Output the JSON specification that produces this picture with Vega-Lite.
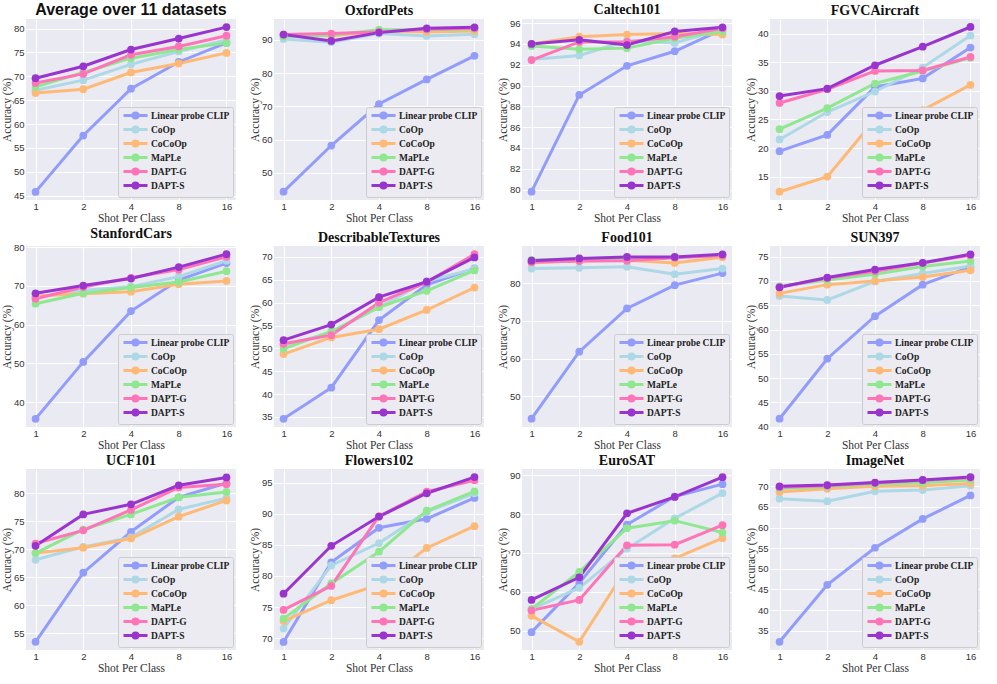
{
"$schema": "https://vega.github.io/schema/vega-lite/v6.json",
"padding": {"left": 1, "top": 2, "right": 2, "bottom": 0},
"background": "#ffffff",
"columns": 4,
"spacing": {"row": 3, "column": 13},
"resolve": {"scale": {"x": "independent", "y": "independent", "color": "independent"}, "legend": {"color": "independent"}, "axis": {"x": "independent", "y": "independent"}},
"data": {"values": [
{"ds":"Avg","m":"Linear probe CLIP","s":1,"a":45.8},{"ds":"Avg","m":"Linear probe CLIP","s":2,"a":57.6},{"ds":"Avg","m":"Linear probe CLIP","s":4,"a":67.4},{"ds":"Avg","m":"Linear probe CLIP","s":8,"a":73.0},{"ds":"Avg","m":"Linear probe CLIP","s":16,"a":77.0},
{"ds":"Avg","m":"CoOp","s":1,"a":67.1},{"ds":"Avg","m":"CoOp","s":2,"a":69.2},{"ds":"Avg","m":"CoOp","s":4,"a":72.5},{"ds":"Avg","m":"CoOp","s":8,"a":75.2},{"ds":"Avg","m":"CoOp","s":16,"a":77.6},
{"ds":"Avg","m":"CoCoOp","s":1,"a":66.5},{"ds":"Avg","m":"CoCoOp","s":2,"a":67.3},{"ds":"Avg","m":"CoCoOp","s":4,"a":70.8},{"ds":"Avg","m":"CoCoOp","s":8,"a":72.7},{"ds":"Avg","m":"CoCoOp","s":16,"a":74.9},
{"ds":"Avg","m":"MaPLe","s":1,"a":67.8},{"ds":"Avg","m":"MaPLe","s":2,"a":70.8},{"ds":"Avg","m":"MaPLe","s":4,"a":73.8},{"ds":"Avg","m":"MaPLe","s":8,"a":75.6},{"ds":"Avg","m":"MaPLe","s":16,"a":77.0},
{"ds":"Avg","m":"DAPT-G","s":1,"a":68.6},{"ds":"Avg","m":"DAPT-G","s":2,"a":70.5},{"ds":"Avg","m":"DAPT-G","s":4,"a":74.5},{"ds":"Avg","m":"DAPT-G","s":8,"a":76.25},{"ds":"Avg","m":"DAPT-G","s":16,"a":78.5},
{"ds":"Avg","m":"DAPT-S","s":1,"a":69.6},{"ds":"Avg","m":"DAPT-S","s":2,"a":72.1},{"ds":"Avg","m":"DAPT-S","s":4,"a":75.6},{"ds":"Avg","m":"DAPT-S","s":8,"a":77.9},{"ds":"Avg","m":"DAPT-S","s":16,"a":80.3},

{"ds":"OxfordPets","m":"Linear probe CLIP","s":1,"a":44.3},{"ds":"OxfordPets","m":"Linear probe CLIP","s":2,"a":58.2},{"ds":"OxfordPets","m":"Linear probe CLIP","s":4,"a":70.7},{"ds":"OxfordPets","m":"Linear probe CLIP","s":8,"a":78.1},{"ds":"OxfordPets","m":"Linear probe CLIP","s":16,"a":85.2},
{"ds":"OxfordPets","m":"CoOp","s":1,"a":90.3},{"ds":"OxfordPets","m":"CoOp","s":2,"a":89.3},{"ds":"OxfordPets","m":"CoOp","s":4,"a":91.9},{"ds":"OxfordPets","m":"CoOp","s":8,"a":91.2},{"ds":"OxfordPets","m":"CoOp","s":16,"a":91.7},
{"ds":"OxfordPets","m":"CoCoOp","s":1,"a":91.5},{"ds":"OxfordPets","m":"CoCoOp","s":2,"a":91.2},{"ds":"OxfordPets","m":"CoCoOp","s":4,"a":92.7},{"ds":"OxfordPets","m":"CoCoOp","s":8,"a":92.4},{"ds":"OxfordPets","m":"CoCoOp","s":16,"a":92.7},
{"ds":"OxfordPets","m":"MaPLe","s":1,"a":91.0},{"ds":"OxfordPets","m":"MaPLe","s":2,"a":91.4},{"ds":"OxfordPets","m":"MaPLe","s":4,"a":93.1},{"ds":"OxfordPets","m":"MaPLe","s":8,"a":93.1},{"ds":"OxfordPets","m":"MaPLe","s":16,"a":93.3},
{"ds":"OxfordPets","m":"DAPT-G","s":1,"a":91.6},{"ds":"OxfordPets","m":"DAPT-G","s":2,"a":91.9},{"ds":"OxfordPets","m":"DAPT-G","s":4,"a":92.4},{"ds":"OxfordPets","m":"DAPT-G","s":8,"a":93.2},{"ds":"OxfordPets","m":"DAPT-G","s":16,"a":93.5},
{"ds":"OxfordPets","m":"DAPT-S","s":1,"a":91.6},{"ds":"OxfordPets","m":"DAPT-S","s":2,"a":89.7},{"ds":"OxfordPets","m":"DAPT-S","s":4,"a":92.2},{"ds":"OxfordPets","m":"DAPT-S","s":8,"a":93.5},{"ds":"OxfordPets","m":"DAPT-S","s":16,"a":93.8},

{"ds":"Caltech101","m":"Linear probe CLIP","s":1,"a":79.8},{"ds":"Caltech101","m":"Linear probe CLIP","s":2,"a":89.1},{"ds":"Caltech101","m":"Linear probe CLIP","s":4,"a":91.9},{"ds":"Caltech101","m":"Linear probe CLIP","s":8,"a":93.3},{"ds":"Caltech101","m":"Linear probe CLIP","s":16,"a":95.4},
{"ds":"Caltech101","m":"CoOp","s":1,"a":92.5},{"ds":"Caltech101","m":"CoOp","s":2,"a":92.9},{"ds":"Caltech101","m":"CoOp","s":4,"a":94.3},{"ds":"Caltech101","m":"CoOp","s":8,"a":94.1},{"ds":"Caltech101","m":"CoOp","s":16,"a":95.4},
{"ds":"Caltech101","m":"CoCoOp","s":1,"a":94.0},{"ds":"Caltech101","m":"CoCoOp","s":2,"a":94.7},{"ds":"Caltech101","m":"CoCoOp","s":4,"a":94.9},{"ds":"Caltech101","m":"CoCoOp","s":8,"a":95.0},{"ds":"Caltech101","m":"CoCoOp","s":16,"a":94.9},
{"ds":"Caltech101","m":"MaPLe","s":1,"a":93.8},{"ds":"Caltech101","m":"MaPLe","s":2,"a":93.5},{"ds":"Caltech101","m":"MaPLe","s":4,"a":93.6},{"ds":"Caltech101","m":"MaPLe","s":8,"a":94.55},{"ds":"Caltech101","m":"MaPLe","s":16,"a":95.2},
{"ds":"Caltech101","m":"DAPT-G","s":1,"a":92.45},{"ds":"Caltech101","m":"DAPT-G","s":2,"a":94.2},{"ds":"Caltech101","m":"DAPT-G","s":4,"a":94.2},{"ds":"Caltech101","m":"DAPT-G","s":8,"a":94.7},{"ds":"Caltech101","m":"DAPT-G","s":16,"a":95.5},
{"ds":"Caltech101","m":"DAPT-S","s":1,"a":94.0},{"ds":"Caltech101","m":"DAPT-S","s":2,"a":94.4},{"ds":"Caltech101","m":"DAPT-S","s":4,"a":93.9},{"ds":"Caltech101","m":"DAPT-S","s":8,"a":95.2},{"ds":"Caltech101","m":"DAPT-S","s":16,"a":95.6},

{"ds":"FGVCAircraft","m":"Linear probe CLIP","s":1,"a":19.45},{"ds":"FGVCAircraft","m":"Linear probe CLIP","s":2,"a":22.3},{"ds":"FGVCAircraft","m":"Linear probe CLIP","s":4,"a":30.7},{"ds":"FGVCAircraft","m":"Linear probe CLIP","s":8,"a":32.2},{"ds":"FGVCAircraft","m":"Linear probe CLIP","s":16,"a":37.6},
{"ds":"FGVCAircraft","m":"CoOp","s":1,"a":21.5},{"ds":"FGVCAircraft","m":"CoOp","s":2,"a":26.3},{"ds":"FGVCAircraft","m":"CoOp","s":4,"a":29.9},{"ds":"FGVCAircraft","m":"CoOp","s":8,"a":34.1},{"ds":"FGVCAircraft","m":"CoOp","s":16,"a":39.7},
{"ds":"FGVCAircraft","m":"CoCoOp","s":1,"a":12.35},{"ds":"FGVCAircraft","m":"CoCoOp","s":2,"a":15.0},{"ds":"FGVCAircraft","m":"CoCoOp","s":4,"a":25.0},{"ds":"FGVCAircraft","m":"CoCoOp","s":8,"a":26.65},{"ds":"FGVCAircraft","m":"CoCoOp","s":16,"a":31.05},
{"ds":"FGVCAircraft","m":"MaPLe","s":1,"a":23.3},{"ds":"FGVCAircraft","m":"MaPLe","s":2,"a":27.0},{"ds":"FGVCAircraft","m":"MaPLe","s":4,"a":31.3},{"ds":"FGVCAircraft","m":"MaPLe","s":8,"a":33.5},{"ds":"FGVCAircraft","m":"MaPLe","s":16,"a":35.8},
{"ds":"FGVCAircraft","m":"DAPT-G","s":1,"a":27.9},{"ds":"FGVCAircraft","m":"DAPT-G","s":2,"a":30.3},{"ds":"FGVCAircraft","m":"DAPT-G","s":4,"a":33.5},{"ds":"FGVCAircraft","m":"DAPT-G","s":8,"a":33.6},{"ds":"FGVCAircraft","m":"DAPT-G","s":16,"a":35.95},
{"ds":"FGVCAircraft","m":"DAPT-S","s":1,"a":29.1},{"ds":"FGVCAircraft","m":"DAPT-S","s":2,"a":30.4},{"ds":"FGVCAircraft","m":"DAPT-S","s":4,"a":34.5},{"ds":"FGVCAircraft","m":"DAPT-S","s":8,"a":37.75},{"ds":"FGVCAircraft","m":"DAPT-S","s":16,"a":41.2},

{"ds":"StanfordCars","m":"Linear probe CLIP","s":1,"a":35.7},{"ds":"StanfordCars","m":"Linear probe CLIP","s":2,"a":50.4},{"ds":"StanfordCars","m":"Linear probe CLIP","s":4,"a":63.5},{"ds":"StanfordCars","m":"Linear probe CLIP","s":8,"a":71.5},{"ds":"StanfordCars","m":"Linear probe CLIP","s":16,"a":75.9},
{"ds":"StanfordCars","m":"CoOp","s":1,"a":67.0},{"ds":"StanfordCars","m":"CoOp","s":2,"a":68.9},{"ds":"StanfordCars","m":"CoOp","s":4,"a":69.8},{"ds":"StanfordCars","m":"CoOp","s":8,"a":72.4},{"ds":"StanfordCars","m":"CoOp","s":16,"a":76.5},
{"ds":"StanfordCars","m":"CoCoOp","s":1,"a":67.4},{"ds":"StanfordCars","m":"CoCoOp","s":2,"a":68.0},{"ds":"StanfordCars","m":"CoCoOp","s":4,"a":68.5},{"ds":"StanfordCars","m":"CoCoOp","s":8,"a":70.45},{"ds":"StanfordCars","m":"CoCoOp","s":16,"a":71.3},
{"ds":"StanfordCars","m":"MaPLe","s":1,"a":65.4},{"ds":"StanfordCars","m":"MaPLe","s":2,"a":68.1},{"ds":"StanfordCars","m":"MaPLe","s":4,"a":69.6},{"ds":"StanfordCars","m":"MaPLe","s":8,"a":71.0},{"ds":"StanfordCars","m":"MaPLe","s":16,"a":73.8},
{"ds":"StanfordCars","m":"DAPT-G","s":1,"a":66.7},{"ds":"StanfordCars","m":"DAPT-G","s":2,"a":69.7},{"ds":"StanfordCars","m":"DAPT-G","s":4,"a":72.1},{"ds":"StanfordCars","m":"DAPT-G","s":8,"a":74.2},{"ds":"StanfordCars","m":"DAPT-G","s":16,"a":77.5},
{"ds":"StanfordCars","m":"DAPT-S","s":1,"a":68.1},{"ds":"StanfordCars","m":"DAPT-S","s":2,"a":70.1},{"ds":"StanfordCars","m":"DAPT-S","s":4,"a":71.9},{"ds":"StanfordCars","m":"DAPT-S","s":8,"a":74.85},{"ds":"StanfordCars","m":"DAPT-S","s":16,"a":78.2},

{"ds":"DescribableTextures","m":"Linear probe CLIP","s":1,"a":34.6},{"ds":"DescribableTextures","m":"Linear probe CLIP","s":2,"a":41.4},{"ds":"DescribableTextures","m":"Linear probe CLIP","s":4,"a":56.2},{"ds":"DescribableTextures","m":"Linear probe CLIP","s":8,"a":63.9},{"ds":"DescribableTextures","m":"Linear probe CLIP","s":16,"a":67.5},
{"ds":"DescribableTextures","m":"CoOp","s":1,"a":50.6},{"ds":"DescribableTextures","m":"CoOp","s":2,"a":53.5},{"ds":"DescribableTextures","m":"CoOp","s":4,"a":59.0},{"ds":"DescribableTextures","m":"CoOp","s":8,"a":64.7},{"ds":"DescribableTextures","m":"CoOp","s":16,"a":67.4},
{"ds":"DescribableTextures","m":"CoCoOp","s":1,"a":48.75},{"ds":"DescribableTextures","m":"CoCoOp","s":2,"a":52.4},{"ds":"DescribableTextures","m":"CoCoOp","s":4,"a":54.2},{"ds":"DescribableTextures","m":"CoCoOp","s":8,"a":58.4},{"ds":"DescribableTextures","m":"CoCoOp","s":16,"a":63.3},
{"ds":"DescribableTextures","m":"MaPLe","s":1,"a":49.9},{"ds":"DescribableTextures","m":"MaPLe","s":2,"a":53.7},{"ds":"DescribableTextures","m":"MaPLe","s":4,"a":59.0},{"ds":"DescribableTextures","m":"MaPLe","s":8,"a":62.6},{"ds":"DescribableTextures","m":"MaPLe","s":16,"a":67.05},
{"ds":"DescribableTextures","m":"DAPT-G","s":1,"a":51.0},{"ds":"DescribableTextures","m":"DAPT-G","s":2,"a":52.9},{"ds":"DescribableTextures","m":"DAPT-G","s":4,"a":60.0},{"ds":"DescribableTextures","m":"DAPT-G","s":8,"a":64.5},{"ds":"DescribableTextures","m":"DAPT-G","s":16,"a":70.6},
{"ds":"DescribableTextures","m":"DAPT-S","s":1,"a":51.8},{"ds":"DescribableTextures","m":"DAPT-S","s":2,"a":55.2},{"ds":"DescribableTextures","m":"DAPT-S","s":4,"a":61.2},{"ds":"DescribableTextures","m":"DAPT-S","s":8,"a":64.6},{"ds":"DescribableTextures","m":"DAPT-S","s":16,"a":69.9},

{"ds":"Food101","m":"Linear probe CLIP","s":1,"a":44.0},{"ds":"Food101","m":"Linear probe CLIP","s":2,"a":61.8},{"ds":"Food101","m":"Linear probe CLIP","s":4,"a":73.3},{"ds":"Food101","m":"Linear probe CLIP","s":8,"a":79.5},{"ds":"Food101","m":"Linear probe CLIP","s":16,"a":82.7},
{"ds":"Food101","m":"CoOp","s":1,"a":83.9},{"ds":"Food101","m":"CoOp","s":2,"a":84.1},{"ds":"Food101","m":"CoOp","s":4,"a":84.4},{"ds":"Food101","m":"CoOp","s":8,"a":82.4},{"ds":"Food101","m":"CoOp","s":16,"a":83.9},
{"ds":"Food101","m":"CoCoOp","s":1,"a":85.5},{"ds":"Food101","m":"CoCoOp","s":2,"a":85.9},{"ds":"Food101","m":"CoCoOp","s":4,"a":86.1},{"ds":"Food101","m":"CoCoOp","s":8,"a":85.4},{"ds":"Food101","m":"CoCoOp","s":16,"a":86.9},
{"ds":"Food101","m":"MaPLe","s":1,"a":86.2},{"ds":"Food101","m":"MaPLe","s":2,"a":86.5},{"ds":"Food101","m":"MaPLe","s":4,"a":86.6},{"ds":"Food101","m":"MaPLe","s":8,"a":86.9},{"ds":"Food101","m":"MaPLe","s":16,"a":87.4},
{"ds":"Food101","m":"DAPT-G","s":1,"a":85.6},{"ds":"Food101","m":"DAPT-G","s":2,"a":85.9},{"ds":"Food101","m":"DAPT-G","s":4,"a":86.0},{"ds":"Food101","m":"DAPT-G","s":8,"a":86.8},{"ds":"Food101","m":"DAPT-G","s":16,"a":87.4},
{"ds":"Food101","m":"DAPT-S","s":1,"a":86.0},{"ds":"Food101","m":"DAPT-S","s":2,"a":86.6},{"ds":"Food101","m":"DAPT-S","s":4,"a":87.0},{"ds":"Food101","m":"DAPT-S","s":8,"a":87.0},{"ds":"Food101","m":"DAPT-S","s":16,"a":87.7},

{"ds":"SUN397","m":"Linear probe CLIP","s":1,"a":41.65},{"ds":"SUN397","m":"Linear probe CLIP","s":2,"a":54.0},{"ds":"SUN397","m":"Linear probe CLIP","s":4,"a":62.75},{"ds":"SUN397","m":"Linear probe CLIP","s":8,"a":69.25},{"ds":"SUN397","m":"Linear probe CLIP","s":16,"a":72.9},
{"ds":"SUN397","m":"CoOp","s":1,"a":66.9},{"ds":"SUN397","m":"CoOp","s":2,"a":66.1},{"ds":"SUN397","m":"CoOp","s":4,"a":69.9},{"ds":"SUN397","m":"CoOp","s":8,"a":71.55},{"ds":"SUN397","m":"CoOp","s":16,"a":73.1},
{"ds":"SUN397","m":"CoCoOp","s":1,"a":67.45},{"ds":"SUN397","m":"CoCoOp","s":2,"a":69.25},{"ds":"SUN397","m":"CoCoOp","s":4,"a":70.0},{"ds":"SUN397","m":"CoCoOp","s":8,"a":70.8},{"ds":"SUN397","m":"CoCoOp","s":16,"a":72.2},
{"ds":"SUN397","m":"MaPLe","s":1,"a":68.9},{"ds":"SUN397","m":"MaPLe","s":2,"a":70.2},{"ds":"SUN397","m":"MaPLe","s":4,"a":71.4},{"ds":"SUN397","m":"MaPLe","s":8,"a":73.0},{"ds":"SUN397","m":"MaPLe","s":16,"a":74.1},
{"ds":"SUN397","m":"DAPT-G","s":1,"a":68.7},{"ds":"SUN397","m":"DAPT-G","s":2,"a":70.6},{"ds":"SUN397","m":"DAPT-G","s":4,"a":72.0},{"ds":"SUN397","m":"DAPT-G","s":8,"a":73.7},{"ds":"SUN397","m":"DAPT-G","s":16,"a":75.3},
{"ds":"SUN397","m":"DAPT-S","s":1,"a":68.7},{"ds":"SUN397","m":"DAPT-S","s":2,"a":70.7},{"ds":"SUN397","m":"DAPT-S","s":4,"a":72.35},{"ds":"SUN397","m":"DAPT-S","s":8,"a":73.75},{"ds":"SUN397","m":"DAPT-S","s":16,"a":75.5},

{"ds":"UCF101","m":"Linear probe CLIP","s":1,"a":53.45},{"ds":"UCF101","m":"Linear probe CLIP","s":2,"a":65.8},{"ds":"UCF101","m":"Linear probe CLIP","s":4,"a":73.1},{"ds":"UCF101","m":"Linear probe CLIP","s":8,"a":79.25},{"ds":"UCF101","m":"Linear probe CLIP","s":16,"a":81.8},
{"ds":"UCF101","m":"CoOp","s":1,"a":68.1},{"ds":"UCF101","m":"CoOp","s":2,"a":70.4},{"ds":"UCF101","m":"CoOp","s":4,"a":72.1},{"ds":"UCF101","m":"CoOp","s":8,"a":77.1},{"ds":"UCF101","m":"CoOp","s":16,"a":79.1},
{"ds":"UCF101","m":"CoCoOp","s":1,"a":69.3},{"ds":"UCF101","m":"CoCoOp","s":2,"a":70.25},{"ds":"UCF101","m":"CoCoOp","s":4,"a":71.9},{"ds":"UCF101","m":"CoCoOp","s":8,"a":75.8},{"ds":"UCF101","m":"CoCoOp","s":16,"a":78.7},
{"ds":"UCF101","m":"MaPLe","s":1,"a":69.3},{"ds":"UCF101","m":"MaPLe","s":2,"a":73.5},{"ds":"UCF101","m":"MaPLe","s":4,"a":76.2},{"ds":"UCF101","m":"MaPLe","s":8,"a":79.25},{"ds":"UCF101","m":"MaPLe","s":16,"a":80.2},
{"ds":"UCF101","m":"DAPT-G","s":1,"a":71.0},{"ds":"UCF101","m":"DAPT-G","s":2,"a":73.35},{"ds":"UCF101","m":"DAPT-G","s":4,"a":77.0},{"ds":"UCF101","m":"DAPT-G","s":8,"a":81.0},{"ds":"UCF101","m":"DAPT-G","s":16,"a":81.6},
{"ds":"UCF101","m":"DAPT-S","s":1,"a":70.6},{"ds":"UCF101","m":"DAPT-S","s":2,"a":76.2},{"ds":"UCF101","m":"DAPT-S","s":4,"a":78.0},{"ds":"UCF101","m":"DAPT-S","s":8,"a":81.4},{"ds":"UCF101","m":"DAPT-S","s":16,"a":82.8},

{"ds":"Flowers102","m":"Linear probe CLIP","s":1,"a":69.4},{"ds":"Flowers102","m":"Linear probe CLIP","s":2,"a":82.2},{"ds":"Flowers102","m":"Linear probe CLIP","s":4,"a":87.75},{"ds":"Flowers102","m":"Linear probe CLIP","s":8,"a":89.2},{"ds":"Flowers102","m":"Linear probe CLIP","s":16,"a":92.55},
{"ds":"Flowers102","m":"CoOp","s":1,"a":71.55},{"ds":"Flowers102","m":"CoOp","s":2,"a":81.7},{"ds":"Flowers102","m":"CoOp","s":4,"a":85.3},{"ds":"Flowers102","m":"CoOp","s":8,"a":90.3},{"ds":"Flowers102","m":"CoOp","s":16,"a":93.3},
{"ds":"Flowers102","m":"CoCoOp","s":1,"a":72.75},{"ds":"Flowers102","m":"CoCoOp","s":2,"a":76.1},{"ds":"Flowers102","m":"CoCoOp","s":4,"a":78.6},{"ds":"Flowers102","m":"CoCoOp","s":8,"a":84.5},{"ds":"Flowers102","m":"CoCoOp","s":16,"a":88.0},
{"ds":"Flowers102","m":"MaPLe","s":1,"a":73.15},{"ds":"Flowers102","m":"MaPLe","s":2,"a":78.8},{"ds":"Flowers102","m":"MaPLe","s":4,"a":83.9},{"ds":"Flowers102","m":"MaPLe","s":8,"a":90.5},{"ds":"Flowers102","m":"MaPLe","s":16,"a":93.6},
{"ds":"Flowers102","m":"DAPT-G","s":1,"a":74.55},{"ds":"Flowers102","m":"DAPT-G","s":2,"a":78.4},{"ds":"Flowers102","m":"DAPT-G","s":4,"a":89.6},{"ds":"Flowers102","m":"DAPT-G","s":8,"a":93.55},{"ds":"Flowers102","m":"DAPT-G","s":16,"a":95.4},
{"ds":"Flowers102","m":"DAPT-S","s":1,"a":77.15},{"ds":"Flowers102","m":"DAPT-S","s":2,"a":84.85},{"ds":"Flowers102","m":"DAPT-S","s":4,"a":89.55},{"ds":"Flowers102","m":"DAPT-S","s":8,"a":93.3},{"ds":"Flowers102","m":"DAPT-S","s":16,"a":95.9},

{"ds":"EuroSAT","m":"Linear probe CLIP","s":1,"a":49.6},{"ds":"EuroSAT","m":"Linear probe CLIP","s":2,"a":62.25},{"ds":"EuroSAT","m":"Linear probe CLIP","s":4,"a":77.3},{"ds":"EuroSAT","m":"Linear probe CLIP","s":8,"a":84.5},{"ds":"EuroSAT","m":"Linear probe CLIP","s":16,"a":87.7},
{"ds":"EuroSAT","m":"CoOp","s":1,"a":55.5},{"ds":"EuroSAT","m":"CoOp","s":2,"a":61.0},{"ds":"EuroSAT","m":"CoOp","s":4,"a":71.1},{"ds":"EuroSAT","m":"CoOp","s":8,"a":78.9},{"ds":"EuroSAT","m":"CoOp","s":16,"a":85.4},
{"ds":"EuroSAT","m":"CoCoOp","s":1,"a":53.8},{"ds":"EuroSAT","m":"CoCoOp","s":2,"a":47.1},{"ds":"EuroSAT","m":"CoCoOp","s":4,"a":66.15},{"ds":"EuroSAT","m":"CoCoOp","s":8,"a":68.6},{"ds":"EuroSAT","m":"CoCoOp","s":16,"a":73.8},
{"ds":"EuroSAT","m":"MaPLe","s":1,"a":55.55},{"ds":"EuroSAT","m":"MaPLe","s":2,"a":65.1},{"ds":"EuroSAT","m":"MaPLe","s":4,"a":76.35},{"ds":"EuroSAT","m":"MaPLe","s":8,"a":78.3},{"ds":"EuroSAT","m":"MaPLe","s":16,"a":75.25},
{"ds":"EuroSAT","m":"DAPT-G","s":1,"a":55.2},{"ds":"EuroSAT","m":"DAPT-G","s":2,"a":57.9},{"ds":"EuroSAT","m":"DAPT-G","s":4,"a":71.95},{"ds":"EuroSAT","m":"DAPT-G","s":8,"a":72.1},{"ds":"EuroSAT","m":"DAPT-G","s":16,"a":77.15},
{"ds":"EuroSAT","m":"DAPT-S","s":1,"a":57.9},{"ds":"EuroSAT","m":"DAPT-S","s":2,"a":63.7},{"ds":"EuroSAT","m":"DAPT-S","s":4,"a":80.2},{"ds":"EuroSAT","m":"DAPT-S","s":8,"a":84.4},{"ds":"EuroSAT","m":"DAPT-S","s":16,"a":89.5},

{"ds":"ImageNet","m":"Linear probe CLIP","s":1,"a":32.3},{"ds":"ImageNet","m":"Linear probe CLIP","s":2,"a":46.1},{"ds":"ImageNet","m":"Linear probe CLIP","s":4,"a":55.1},{"ds":"ImageNet","m":"Linear probe CLIP","s":8,"a":62.1},{"ds":"ImageNet","m":"Linear probe CLIP","s":16,"a":67.8},
{"ds":"ImageNet","m":"CoOp","s":1,"a":67.0},{"ds":"ImageNet","m":"CoOp","s":2,"a":66.4},{"ds":"ImageNet","m":"CoOp","s":4,"a":68.8},{"ds":"ImageNet","m":"CoOp","s":8,"a":69.1},{"ds":"ImageNet","m":"CoOp","s":16,"a":70.15},
{"ds":"ImageNet","m":"CoCoOp","s":1,"a":68.6},{"ds":"ImageNet","m":"CoCoOp","s":2,"a":69.4},{"ds":"ImageNet","m":"CoCoOp","s":4,"a":70.0},{"ds":"ImageNet","m":"CoCoOp","s":8,"a":70.15},{"ds":"ImageNet","m":"CoCoOp","s":16,"a":70.7},
{"ds":"ImageNet","m":"MaPLe","s":1,"a":69.5},{"ds":"ImageNet","m":"MaPLe","s":2,"a":69.9},{"ds":"ImageNet","m":"MaPLe","s":4,"a":70.55},{"ds":"ImageNet","m":"MaPLe","s":8,"a":70.85},{"ds":"ImageNet","m":"MaPLe","s":16,"a":71.55},
{"ds":"ImageNet","m":"DAPT-G","s":1,"a":69.8},{"ds":"ImageNet","m":"DAPT-G","s":2,"a":70.15},{"ds":"ImageNet","m":"DAPT-G","s":4,"a":70.85},{"ds":"ImageNet","m":"DAPT-G","s":8,"a":71.5},{"ds":"ImageNet","m":"DAPT-G","s":16,"a":72.1},
{"ds":"ImageNet","m":"DAPT-S","s":1,"a":70.0},{"ds":"ImageNet","m":"DAPT-S","s":2,"a":70.3},{"ds":"ImageNet","m":"DAPT-S","s":4,"a":70.9},{"ds":"ImageNet","m":"DAPT-S","s":8,"a":71.55},{"ds":"ImageNet","m":"DAPT-S","s":16,"a":72.25}
]},
"concat": [
{"title": {"text": "Average over 11 datasets", "font": "Liberation Sans", "fontSize": 16, "offset": 1}, "width": 210, "height": 181, "transform": [{"filter": "datum.ds === 'Avg'"}],
 "encoding": {"x": {"field": "s", "type": "ordinal", "scale": {"type": "point", "padding": 0.2}, "axis": {"title": "Shot Per Class"}},
  "y": {"field": "a", "type": "quantitative", "scale": {"domain": [44.1, 82.0], "nice": false, "zero": false}, "axis": {"title": "Accuracy (%)", "values": [45,50,55,60,65,70,75,80]}},
  "color": {"field": "m", "type": "nominal", "scale": {"domain": ["Linear probe CLIP","CoOp","CoCoOp","MaPLe","DAPT-G","DAPT-S"], "range": ["#929cfb","#add8e6","#ffb976","#8fe88f","#ff74b6","#9a34cf"]}, "legend": {"title": null}}},
 "layer": [{"mark": {"type": "line", "strokeWidth": 3}}, {"mark": {"type": "point", "filled": true, "size": 60, "opacity": 1}}]},
{"title": "OxfordPets", "width": 210, "height": 181, "transform": [{"filter": "datum.ds === 'OxfordPets'"}],
 "encoding": {"x": {"field": "s", "type": "ordinal", "scale": {"type": "point", "padding": 0.2}, "axis": {"title": "Shot Per Class"}},
  "y": {"field": "a", "type": "quantitative", "scale": {"domain": [41.8, 96.3], "nice": false, "zero": false}, "axis": {"title": "Accuracy (%)", "values": [50,60,70,80,90]}},
  "color": {"field": "m", "type": "nominal", "scale": {"domain": ["Linear probe CLIP","CoOp","CoCoOp","MaPLe","DAPT-G","DAPT-S"], "range": ["#929cfb","#add8e6","#ffb976","#8fe88f","#ff74b6","#9a34cf"]}, "legend": {"title": null}}},
 "layer": [{"mark": {"type": "line", "strokeWidth": 3}}, {"mark": {"type": "point", "filled": true, "size": 60, "opacity": 1}}]},
{"title": "Caltech101", "width": 210, "height": 181, "transform": [{"filter": "datum.ds === 'Caltech101'"}],
 "encoding": {"x": {"field": "s", "type": "ordinal", "scale": {"type": "point", "padding": 0.2}, "axis": {"title": "Shot Per Class"}},
  "y": {"field": "a", "type": "quantitative", "scale": {"domain": [79.0, 96.4], "nice": false, "zero": false}, "axis": {"title": "Accuracy (%)", "values": [80,82,84,86,88,90,92,94,96]}},
  "color": {"field": "m", "type": "nominal", "scale": {"domain": ["Linear probe CLIP","CoOp","CoCoOp","MaPLe","DAPT-G","DAPT-S"], "range": ["#929cfb","#add8e6","#ffb976","#8fe88f","#ff74b6","#9a34cf"]}, "legend": {"title": null}}},
 "layer": [{"mark": {"type": "line", "strokeWidth": 3}}, {"mark": {"type": "point", "filled": true, "size": 60, "opacity": 1}}]},
{"title": "FGVCAircraft", "width": 210, "height": 181, "transform": [{"filter": "datum.ds === 'FGVCAircraft'"}],
 "encoding": {"x": {"field": "s", "type": "ordinal", "scale": {"type": "point", "padding": 0.2}, "axis": {"title": "Shot Per Class"}},
  "y": {"field": "a", "type": "quantitative", "scale": {"domain": [10.9, 42.6], "nice": false, "zero": false}, "axis": {"title": "Accuracy (%)", "values": [15,20,25,30,35,40]}},
  "color": {"field": "m", "type": "nominal", "scale": {"domain": ["Linear probe CLIP","CoOp","CoCoOp","MaPLe","DAPT-G","DAPT-S"], "range": ["#929cfb","#add8e6","#ffb976","#8fe88f","#ff74b6","#9a34cf"]}, "legend": {"title": null}}},
 "layer": [{"mark": {"type": "line", "strokeWidth": 3}}, {"mark": {"type": "point", "filled": true, "size": 60, "opacity": 1}}]},
{"title": "StanfordCars", "width": 210, "height": 181, "transform": [{"filter": "datum.ds === 'StanfordCars'"}],
 "encoding": {"x": {"field": "s", "type": "ordinal", "scale": {"type": "point", "padding": 0.2}, "axis": {"title": "Shot Per Class"}},
  "y": {"field": "a", "type": "quantitative", "scale": {"domain": [33.6, 80.3], "nice": false, "zero": false}, "axis": {"title": "Accuracy (%)", "values": [40,50,60,70,80]}},
  "color": {"field": "m", "type": "nominal", "scale": {"domain": ["Linear probe CLIP","CoOp","CoCoOp","MaPLe","DAPT-G","DAPT-S"], "range": ["#929cfb","#add8e6","#ffb976","#8fe88f","#ff74b6","#9a34cf"]}, "legend": {"title": null}}},
 "layer": [{"mark": {"type": "line", "strokeWidth": 3}}, {"mark": {"type": "point", "filled": true, "size": 60, "opacity": 1}}]},
{"title": "DescribableTextures", "width": 210, "height": 181, "transform": [{"filter": "datum.ds === 'DescribableTextures'"}],
 "encoding": {"x": {"field": "s", "type": "ordinal", "scale": {"type": "point", "padding": 0.2}, "axis": {"title": "Shot Per Class"}},
  "y": {"field": "a", "type": "quantitative", "scale": {"domain": [32.8, 72.4], "nice": false, "zero": false}, "axis": {"title": "Accuracy (%)", "values": [35,40,45,50,55,60,65,70]}},
  "color": {"field": "m", "type": "nominal", "scale": {"domain": ["Linear probe CLIP","CoOp","CoCoOp","MaPLe","DAPT-G","DAPT-S"], "range": ["#929cfb","#add8e6","#ffb976","#8fe88f","#ff74b6","#9a34cf"]}, "legend": {"title": null}}},
 "layer": [{"mark": {"type": "line", "strokeWidth": 3}}, {"mark": {"type": "point", "filled": true, "size": 60, "opacity": 1}}]},
{"title": "Food101", "width": 210, "height": 181, "transform": [{"filter": "datum.ds === 'Food101'"}],
 "encoding": {"x": {"field": "s", "type": "ordinal", "scale": {"type": "point", "padding": 0.2}, "axis": {"title": "Shot Per Class"}},
  "y": {"field": "a", "type": "quantitative", "scale": {"domain": [41.8, 89.9], "nice": false, "zero": false}, "axis": {"title": "Accuracy (%)", "values": [50,60,70,80]}},
  "color": {"field": "m", "type": "nominal", "scale": {"domain": ["Linear probe CLIP","CoOp","CoCoOp","MaPLe","DAPT-G","DAPT-S"], "range": ["#929cfb","#add8e6","#ffb976","#8fe88f","#ff74b6","#9a34cf"]}, "legend": {"title": null}}},
 "layer": [{"mark": {"type": "line", "strokeWidth": 3}}, {"mark": {"type": "point", "filled": true, "size": 60, "opacity": 1}}]},
{"title": "SUN397", "width": 210, "height": 181, "transform": [{"filter": "datum.ds === 'SUN397'"}],
 "encoding": {"x": {"field": "s", "type": "ordinal", "scale": {"type": "point", "padding": 0.2}, "axis": {"title": "Shot Per Class"}},
  "y": {"field": "a", "type": "quantitative", "scale": {"domain": [39.95, 77.2], "nice": false, "zero": false}, "axis": {"title": "Accuracy (%)", "values": [40,45,50,55,60,65,70,75]}},
  "color": {"field": "m", "type": "nominal", "scale": {"domain": ["Linear probe CLIP","CoOp","CoCoOp","MaPLe","DAPT-G","DAPT-S"], "range": ["#929cfb","#add8e6","#ffb976","#8fe88f","#ff74b6","#9a34cf"]}, "legend": {"title": null}}},
 "layer": [{"mark": {"type": "line", "strokeWidth": 3}}, {"mark": {"type": "point", "filled": true, "size": 60, "opacity": 1}}]},
{"title": "UCF101", "width": 210, "height": 181, "transform": [{"filter": "datum.ds === 'UCF101'"}],
 "encoding": {"x": {"field": "s", "type": "ordinal", "scale": {"type": "point", "padding": 0.2}, "axis": {"title": "Shot Per Class"}},
  "y": {"field": "a", "type": "quantitative", "scale": {"domain": [52.0, 84.3], "nice": false, "zero": false}, "axis": {"title": "Accuracy (%)", "values": [55,60,65,70,75,80]}},
  "color": {"field": "m", "type": "nominal", "scale": {"domain": ["Linear probe CLIP","CoOp","CoCoOp","MaPLe","DAPT-G","DAPT-S"], "range": ["#929cfb","#add8e6","#ffb976","#8fe88f","#ff74b6","#9a34cf"]}, "legend": {"title": null}}},
 "layer": [{"mark": {"type": "line", "strokeWidth": 3}}, {"mark": {"type": "point", "filled": true, "size": 60, "opacity": 1}}]},
{"title": "Flowers102", "width": 210, "height": 181, "transform": [{"filter": "datum.ds === 'Flowers102'"}],
 "encoding": {"x": {"field": "s", "type": "ordinal", "scale": {"type": "point", "padding": 0.2}, "axis": {"title": "Shot Per Class"}},
  "y": {"field": "a", "type": "quantitative", "scale": {"domain": [68.1, 97.2], "nice": false, "zero": false}, "axis": {"title": "Accuracy (%)", "values": [70,75,80,85,90,95]}},
  "color": {"field": "m", "type": "nominal", "scale": {"domain": ["Linear probe CLIP","CoOp","CoCoOp","MaPLe","DAPT-G","DAPT-S"], "range": ["#929cfb","#add8e6","#ffb976","#8fe88f","#ff74b6","#9a34cf"]}, "legend": {"title": null}}},
 "layer": [{"mark": {"type": "line", "strokeWidth": 3}}, {"mark": {"type": "point", "filled": true, "size": 60, "opacity": 1}}]},
{"title": "EuroSAT", "width": 210, "height": 181, "transform": [{"filter": "datum.ds === 'EuroSAT'"}],
 "encoding": {"x": {"field": "s", "type": "ordinal", "scale": {"type": "point", "padding": 0.2}, "axis": {"title": "Shot Per Class"}},
  "y": {"field": "a", "type": "quantitative", "scale": {"domain": [45.0, 91.6], "nice": false, "zero": false}, "axis": {"title": "Accuracy (%)", "values": [50,60,70,80,90]}},
  "color": {"field": "m", "type": "nominal", "scale": {"domain": ["Linear probe CLIP","CoOp","CoCoOp","MaPLe","DAPT-G","DAPT-S"], "range": ["#929cfb","#add8e6","#ffb976","#8fe88f","#ff74b6","#9a34cf"]}, "legend": {"title": null}}},
 "layer": [{"mark": {"type": "line", "strokeWidth": 3}}, {"mark": {"type": "point", "filled": true, "size": 60, "opacity": 1}}]},
{"title": "ImageNet", "width": 210, "height": 181, "transform": [{"filter": "datum.ds === 'ImageNet'"}],
 "encoding": {"x": {"field": "s", "type": "ordinal", "scale": {"type": "point", "padding": 0.2}, "axis": {"title": "Shot Per Class"}},
  "y": {"field": "a", "type": "quantitative", "scale": {"domain": [30.3, 74.2], "nice": false, "zero": false}, "axis": {"title": "Accuracy (%)", "values": [35,40,45,50,55,60,65,70]}},
  "color": {"field": "m", "type": "nominal", "scale": {"domain": ["Linear probe CLIP","CoOp","CoCoOp","MaPLe","DAPT-G","DAPT-S"], "range": ["#929cfb","#add8e6","#ffb976","#8fe88f","#ff74b6","#9a34cf"]}, "legend": {"title": null}}},
 "layer": [{"mark": {"type": "line", "strokeWidth": 3}}, {"mark": {"type": "point", "filled": true, "size": 60, "opacity": 1}}]}
],
"config": {
 "view": {"fill": "#EAEAF2", "stroke": null},
 "axis": {"grid": true, "gridColor": "#ffffff", "gridWidth": 1, "domain": false, "ticks": false, "labelFont": "Liberation Sans", "labelFontSize": 9.5, "labelColor": "#333333", "labelPadding": 2, "titleFont": "Liberation Serif", "titleFontSize": 11.5, "titleFontWeight": "normal", "titleColor": "#333333", "titlePadding": 1},
 "axisX": {"labelAngle": 0, "titlePadding": 2, "labelPadding": 1},
 "title": {"font": "Liberation Serif", "fontSize": 14, "fontWeight": "bold", "color": "#111111", "offset": 1, "anchor": "middle"},
 "legend": {"orient": "bottom-right", "offset": 3, "padding": 3, "fillColor": "#EBEBF1", "strokeColor": "#cccccc", "cornerRadius": 2, "labelFont": "Liberation Serif", "labelFontWeight": "bold", "labelFontSize": 9.5, "labelColor": "#222222", "symbolType": "M-3,0L3,0M0.625,0A0.625,0.625,0,1,1,-0.625,0A0.625,0.625,0,1,1,0.625,0", "symbolSize": 64, "symbolStrokeWidth": 3, "rowPadding": -5, "symbolOffset": 9, "labelOffset": 10}
}
}
